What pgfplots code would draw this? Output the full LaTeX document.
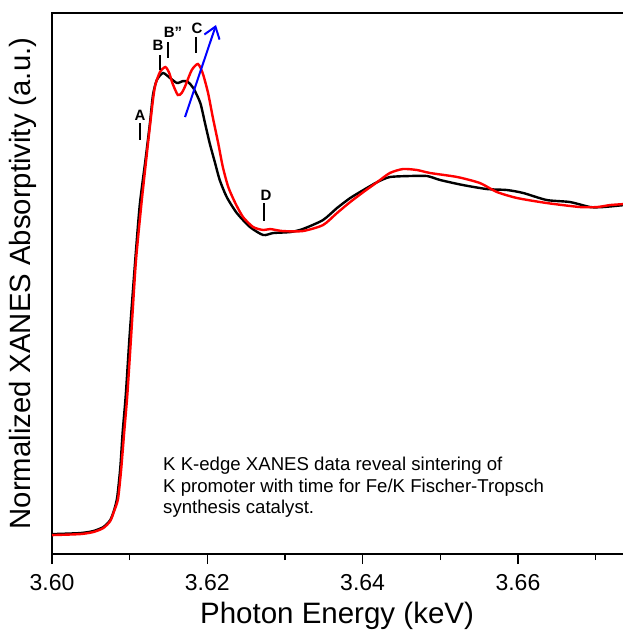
\documentclass[border=0pt]{standalone}
\usepackage{fontspec}
\setmainfont{Liberation Sans}
\usepackage{pgfplots}
\pgfplotsset{compat=1.18}
\usetikzlibrary{arrows.meta}
\begin{document}
\begin{tikzpicture}
\begin{axis}[
  scale only axis, width=572pt, height=541pt,
  xmin=3.60, xmax=3.67366, ymin=-0.063, ymax=1.74,
  axis line style={line width=1.4pt},
  xtick={3.60,3.62,3.64,3.66},
  minor xtick={3.61,3.63,3.65,3.67},
  ytick=\empty,
  xtick pos=left, tick align=outside,
  major tick length=10pt, minor tick length=6pt,
  every tick/.style={black, line width=1.4pt},
  /pgf/number format/assume math mode=true,
  xticklabel style={/pgf/number format/fixed, /pgf/number format/precision=2, /pgf/number format/fixed zerofill, font=\fontsize{23}{27}\selectfont, yshift=-7pt},
  xlabel={Photon Energy (keV)},
  ylabel={Normalized XANES Absorptivity (a.u.)},
  every axis x label/.style={at={(axis description cs:0.4983,0)}, anchor=north, yshift=-48pt, font=\fontsize{29.5}{34}\selectfont, inner sep=0pt},
  every axis y label/.style={at={(axis description cs:-0.026,0.5)}, rotate=90, anchor=south, font=\fontsize{29.3}{34}\selectfont, inner sep=0pt},
  clip=true,
]
% black series
\addplot[black, line width=2.4pt, smooth, tension=0.4] coordinates {
(3.6000,0.0033) (3.6036,0.0067) (3.6053,0.0133) (3.6066,0.0267) (3.6075,0.05) (3.6080,0.0833) (3.6084,0.1267) (3.6088,0.2267) (3.6091,0.3433) (3.6095,0.4667) (3.6100,0.6667) (3.6107,0.91) (3.6113,1.10) (3.6120,1.2433) (3.6126,1.37) (3.6130,1.4667) (3.6135,1.5167) (3.6143,1.54) (3.6152,1.5233) (3.6161,1.5067) (3.6169,1.5133) (3.6175,1.51) (3.6182,1.49) (3.6191,1.44) (3.6197,1.3733) (3.6203,1.3067) (3.6210,1.24) (3.6216,1.1833) (3.6225,1.1267) (3.6238,1.0733) (3.6255,1.0267) (3.6272,1.0) (3.6285,1.0067) (3.6307,1.01) (3.6323,1.02) (3.6349,1.05) (3.6367,1.09) (3.6384,1.1233) (3.6401,1.15) (3.6419,1.1767) (3.6435,1.1933) (3.6461,1.1967) (3.6483,1.1967) (3.6500,1.1833) (3.6529,1.1667) (3.6560,1.1533) (3.6586,1.15) (3.6607,1.14) (3.6637,1.1167) (3.6667,1.11) (3.6693,1.0933) (3.6710,1.0933) (3.6737,1.10)
};
% red series
\addplot[red, line width=2.4pt, smooth, tension=0.4] coordinates {
(3.6000,0.0) (3.6036,0.0033) (3.6053,0.010) (3.6066,0.0233) (3.6075,0.0467) (3.6080,0.08) (3.6085,0.12) (3.6089,0.2167) (3.6093,0.3433) (3.6097,0.4667) (3.6102,0.6667) (3.6108,0.91) (3.6115,1.10) (3.6121,1.2433) (3.6126,1.36) (3.6130,1.45) (3.6133,1.5) (3.6139,1.5433) (3.6146,1.56) (3.6151,1.54) (3.6155,1.5067) (3.6162,1.4667) (3.6167,1.4733) (3.6171,1.4933) (3.6180,1.55) (3.6188,1.57) (3.6194,1.54) (3.6201,1.4733) (3.6207,1.3933) (3.6214,1.3067) (3.6220,1.2267) (3.6227,1.16) (3.6236,1.1067) (3.6246,1.06) (3.6259,1.0267) (3.6272,1.0167) (3.6281,1.02) (3.6297,1.0133) (3.6323,1.0133) (3.6349,1.0333) (3.6367,1.0733) (3.6384,1.11) (3.6401,1.1433) (3.6419,1.1767) (3.6435,1.2067) (3.6452,1.22) (3.6470,1.2167) (3.6487,1.2067) (3.6522,1.1933) (3.6551,1.1733) (3.6573,1.1433) (3.6599,1.1233) (3.6637,1.1067) (3.6680,1.0933) (3.6702,1.0933) (3.6719,1.10) (3.6737,1.1033)
};
% peak labels
\draw[black, line width=1.3pt] (axis cs:3.61133,1.3733) -- (axis cs:3.61133,1.3167);
\node[font=\fontsize{15}{17}\selectfont\bfseries] at (axis cs:3.61133,1.40) {A};
\draw[black, line width=1.3pt] (axis cs:3.61391,1.60) -- (axis cs:3.61391,1.55);
\node[font=\fontsize{15}{17}\selectfont\bfseries] at (axis cs:3.61365,1.6333) {B};
\draw[black, line width=1.3pt] (axis cs:3.61494,1.6433) -- (axis cs:3.61494,1.59);
\node[font=\fontsize{15}{17}\selectfont\bfseries] at (axis cs:3.61558,1.6767) {B"};
\draw[black, line width=1.3pt] (axis cs:3.61854,1.66) -- (axis cs:3.61854,1.6067);
\node[font=\fontsize{15}{17}\selectfont\bfseries] at (axis cs:3.61867,1.69) {C};
\draw[black, line width=1.3pt] (axis cs:3.62730,1.1067) -- (axis cs:3.62730,1.0467);
\node[font=\fontsize{15}{17}\selectfont\bfseries] at (axis cs:3.62756,1.1333) {D};
% arrow
\draw[blue, line width=2pt, -{Straight Barb[length=11pt,width=16pt,line width=2pt]}] (axis cs:3.61713,1.3933) -- (axis cs:3.62112,1.70);
% text
\node[anchor=north west, align=left, inner sep=0pt, font=\fontsize{18.6}{21.5}\selectfont] at (axis cs:3.6143,0.26) {K K-edge XANES data reveal sintering of\\K promoter with time for Fe/K Fischer-Tropsch\\synthesis catalyst.};
\end{axis}
\pgfresetboundingbox
\path (current axis.south west) ++(-52pt,-80pt) rectangle ++(622pt,634pt);
\end{tikzpicture}
\end{document}
